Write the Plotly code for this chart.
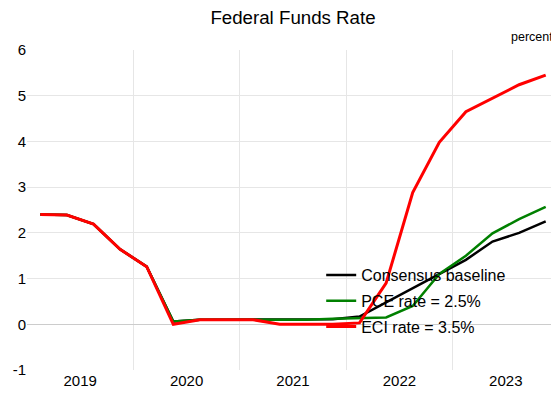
import plotly.graph_objects as go

quarters = ["2019Q1", "2019Q2", "2019Q3", "2019Q4",
            "2020Q1", "2020Q2", "2020Q3", "2020Q4",
            "2021Q1", "2021Q2", "2021Q3", "2021Q4",
            "2022Q1", "2022Q2", "2022Q3", "2022Q4",
            "2023Q1", "2023Q2", "2023Q3", "2023Q4"]

consensus = [2.40, 2.39, 2.19, 1.64, 1.26, 0.06, 0.10, 0.10,
             0.10, 0.10, 0.10, 0.11, 0.17, 0.48, 0.79, 1.10,
             1.41, 1.81, 2.00, 2.25]
pce = [2.40, 2.39, 2.19, 1.64, 1.26, 0.06, 0.10, 0.10,
       0.10, 0.10, 0.10, 0.12, 0.13, 0.15, 0.40, 1.10,
       1.50, 1.99, 2.30, 2.57]
eci = [2.40, 2.39, 2.19, 1.64, 1.26, 0.00, 0.10, 0.10,
       0.10, 0.00, 0.00, 0.00, 0.03, 0.90, 2.88, 3.98,
       4.65, 4.95, 5.24, 5.45]

year_labels = ["2019", "2020", "2021", "2022", "2023"]
y_ticks = [-1, 0, 1, 2, 3, 4, 5, 6]
y_tick_labels = ["-1", "0", "1", "2", "3", "4", "5", "6"]


def qpos(q):
    return int(q[:4]) + (int(q[-1]) - 0.5) / 4


x = [qpos(q) for q in quarters]
year_mid = [int(y) + 0.5 for y in year_labels]

FONT = "Liberation Sans, Arial, sans-serif"

# the page body adds an 8px offset, so the figure is sized to end at the window edge
W, H = 551, 387

fig = go.Figure()
fig.add_trace(go.Scatter(x=x, y=consensus, mode="lines", name="Consensus baseline",
                         line=dict(color="#000000", width=2.5), legendgroup="a"))
fig.add_trace(go.Scatter(x=x, y=pce, mode="lines", name="PCE rate = 2.5%",
                         line=dict(color="#008000", width=2.5), legendgroup="b"))
fig.add_trace(go.Scatter(x=x, y=eci, mode="lines", name="ECI rate = 3.5%",
                         line=dict(color="#ff0000", width=3), legendgroup="c"))

fig.update_layout(
    width=W, height=H,
    margin=dict(l=19, r=0, t=42, b=25, autoexpand=False),
    paper_bgcolor="white", plot_bgcolor="white",
    font=dict(family=FONT, color="#000000", size=15),
    title=dict(text="Federal Funds Rate", x=285 / W, xanchor="center",
               y=1 - 9.5 / H, yanchor="middle", yref="container",
               font=dict(size=18.7, family=FONT, color="#000000")),
    legend=dict(x=0.553, y=0.35, xanchor="left", yanchor="top",
                bgcolor="rgba(0,0,0,0)", font=dict(size=16, family=FONT),
                tracegroupgap=2, traceorder="grouped"),
    annotations=[dict(text="percent", xref="paper", yref="paper", x=1.0, y=1.04,
                      xanchor="right", yanchor="middle", showarrow=False,
                      xshift=-4,
                      font=dict(size=12.5, family=FONT))],
)
fig.update_xaxes(range=[2019, 2024], tickmode="array", tickvals=year_mid,
                 ticktext=year_labels, showgrid=False, zeroline=False, showline=False,
                 ticks="", tickfont=dict(size=15), automargin=False,
                 minor=dict(tick0=2019, dtick=1, showgrid=True,
                            gridcolor="#e6e6e6", gridwidth=1))
fig.update_yaxes(range=[-1, 6], tickmode="array", tickvals=y_ticks,
                 ticktext=y_tick_labels, automargin=False,
                 showgrid=True, gridcolor="#e6e6e6", gridwidth=1,
                 zeroline=True, zerolinecolor="#cccccc", zerolinewidth=1,
                 showline=False, ticks="", tickfont=dict(size=15))

fig.write_html("out.html")
